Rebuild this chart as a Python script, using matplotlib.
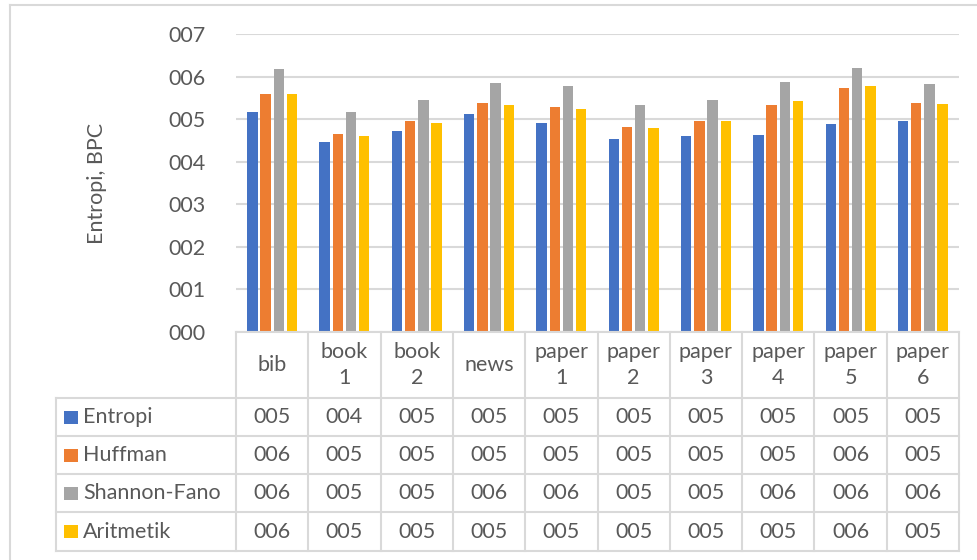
import matplotlib
matplotlib.use("Agg")
import matplotlib.pyplot as plt
from matplotlib.lines import Line2D
from matplotlib.patches import Rectangle
import numpy as np

# Compression benchmark files (Calgary corpus subset)
categories = ["bib", "book\n1", "book\n2", "news", "paper\n1", "paper\n2",
              "paper\n3", "paper\n4", "paper\n5", "paper\n6"]

entropi = [5.16, 4.46, 4.72, 5.13, 4.92, 4.54, 4.60, 4.63, 4.88, 4.95]
huffman = [5.60, 4.66, 4.95, 5.38, 5.28, 4.82, 4.95, 5.33, 5.74, 5.38]
shannon_fano = [6.18, 5.16, 5.44, 5.84, 5.77, 5.33, 5.45, 5.88, 6.21, 5.83]
aritmetik = [5.58, 4.61, 4.92, 5.34, 5.25, 4.79, 4.95, 5.43, 5.77, 5.36]

series_names = ["Entropi", "Huffman", "Shannon-Fano", "Aritmetik"]
series_values = [entropi, huffman, shannon_fano, aritmetik]
series_colors = ["#4472C4", "#ED7D31", "#A5A5A5", "#FFC000"]

y_ticks = [0, 1, 2, 3, 4, 5, 6, 7]
y_label = "Entropi, BPC"

W, H = 977, 560
TEXT = "#595959"
GRID = "#D9D9D9"
FONT = "Lato"
FS = 15.5

plt.rcParams["font.family"] = [FONT, "DejaVu Sans"]

fig = plt.figure(figsize=(W / 100, H / 100), dpi=100)


def fx(px):
    return px / W


def fy(py):
    return 1 - py / H


# plot area in pixel coordinates
left, right, top, base = 236, 959, 34, 332
ax = fig.add_axes([fx(left), fy(base), fx(right) - fx(left), fy(top) - fy(base)])

n = len(categories)
pitch = 0.1826
width = 0.145
x = np.arange(n)
for k, (vals, col) in enumerate(zip(series_values, series_colors)):
    ax.bar(x + (k - 1.5) * pitch, vals, width=width, color=col, zorder=3)

ax.set_xlim(-0.5, n - 0.5)
ax.set_ylim(0, 7)
ax.set_yticks(y_ticks)
ax.set_yticklabels([f"{t:03d}" for t in y_ticks], color=TEXT, fontsize=FS)
ax.tick_params(axis="y", length=0, pad=22)
ax.set_xticks([])
ax.grid(axis="y", color=GRID, linewidth=1.5, zorder=0)
for s in ["top", "right", "left", "bottom"]:
    ax.spines[s].set_visible(False)
ax.set_facecolor("none")

fig.text(fx(97), fy(183), y_label, rotation=90, ha="center", va="center",
         color=TEXT, fontsize=FS)


def hline(x0, x1, y):
    fig.add_artist(Line2D([fx(x0), fx(x1)], [fy(y), fy(y)],
                          transform=fig.transFigure, color=GRID, lw=1.5))


def vline(xp, y0, y1):
    fig.add_artist(Line2D([fx(xp), fx(xp)], [fy(y0), fy(y1)],
                          transform=fig.transFigure, color=GRID, lw=1.5))


# outer chart frame
hline(10, 977, 5)
vline(10, 5, 560)

# data table
label_left = 55.7
rows = [332, 398, 436, 474, 512, 551]
col_w = (right - left) / n

hline(left, right, rows[0])
for r in rows[1:]:
    hline(label_left, right, r)
vline(label_left, rows[1], rows[-1])
for i in range(n + 1):
    vline(left + i * col_w, rows[0], rows[-1])

# category header
for i, c in enumerate(categories):
    fig.text(fx(left + (i + 0.5) * col_w), fy((rows[0] + rows[1]) / 2), c,
             ha="center", va="center", color=TEXT, fontsize=FS,
             linespacing=1.4)

# series rows with legend keys and rounded values
for k, (name, vals, col) in enumerate(zip(series_names, series_values, series_colors)):
    yc = (rows[k + 1] + rows[k + 2]) / 2
    fig.add_artist(Rectangle((fx(64), fy(yc + 6.5)), fx(14), 13 / H,
                             transform=fig.transFigure, color=col, lw=0))
    fig.text(fx(83), fy(yc), name, ha="left", va="center", color=TEXT,
             fontsize=FS)
    for i, v in enumerate(vals):
        fig.text(fx(left + (i + 0.5) * col_w), fy(yc), f"{int(round(v)):03d}",
                 ha="center", va="center", color=TEXT, fontsize=FS)

fig.savefig("out.png", dpi=100)
